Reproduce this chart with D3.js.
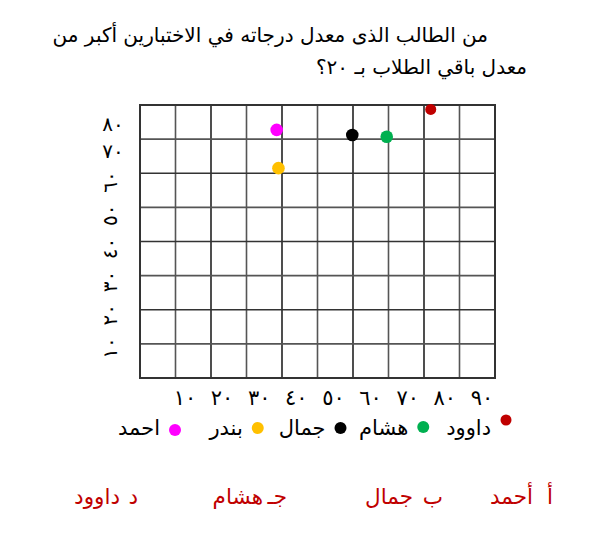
<!DOCTYPE html>
<html><head><meta charset="utf-8">
<script src="https://cdn.jsdelivr.net/npm/d3@7"></script>
<style>body{margin:0;background:#fff} text{font-family:"DejaVu Sans", sans-serif}</style>
</head><body><svg id="c" width="590" height="543"></svg>
<script>
// ---- data ----
const students = ["داوود", "هشام", "جمال", "بندر", "احمد"];
const xValues = [81.9, 69.5, 59.8, 39.0, 38.5];
const yValues = [78.7, 70.7, 71.2, 61.5, 72.7];
const colors = ["#c00000", "#00b050", "#000000", "#ffc000", "#ff00ff"];
const xTickValues = [10, 20, 30, 40, 50, 60, 70, 80, 90];
const xTickLabels = ["١٠", "٢٠", "٣٠", "٤٠", "٥٠", "٦٠", "٧٠", "٨٠", "٩٠"];
const yTickValues = [10, 20, 30, 40, 50, 60, 70, 80];
const yTickLabels = ["١٠", "٢٠", "٣٠", "٤٠", "٥٠", "٦٠", "٧٠", "٨٠"];
const titleLines = ["من الطالب الذى معدل درجاته في الاختبارين أكبر من", "معدل باقي الطلاب بـ ٢٠؟"];
const optionLetters = ["أ", "ب", "جـ", "د"];
const optionNames = ["أحمد", "جمال", "هشام", "داوود"];

const svg = d3.select("#c");
const x = d3.scaleLinear().domain([0, 100]).range([140, 495]);
const y = d3.scaleLinear().domain([0, 80]).range([378, 105]);

// title
svg.selectAll("text.title").data(titleLines).join("text")
  .attr("class", "title")
  .attr("x", (d, i) => [488, 527][i])
  .attr("y", (d, i) => [42, 74][i])
  .attr("text-anchor", "end")
  .attr("font-size", 20)
  .attr("fill", "#000")
  .text(d => d);

// grid
const g = svg.append("g");
g.selectAll("line.v").data(d3.range(0, 101, 10)).join("line")
  .attr("x1", d => x(d)).attr("x2", d => x(d))
  .attr("y1", y(0)).attr("y2", y(80))
  .attr("stroke", (d, i) => i % 2 ? "#555" : "#222").attr("stroke-width", 1.6);
g.selectAll("line.h").data(d3.range(0, 81, 10)).join("line")
  .attr("y1", d => y(d)).attr("y2", d => y(d))
  .attr("x1", x(0)).attr("x2", x(100))
  .attr("stroke", (d, i) => i % 2 ? "#555" : "#333").attr("stroke-width", 1.6);
g.append("rect").attr("x", x(0)).attr("y", y(80))
  .attr("width", x(100) - x(0)).attr("height", y(0) - y(80))
  .attr("fill", "none").attr("stroke", "#333").attr("stroke-width", 2);

// x tick labels (spaced as in the original text line)
const xl = d3.scaleLinear().domain([10, 90]).range([185, 482]);
svg.selectAll("text.xl").data(xTickValues).join("text")
  .attr("class", "xl")
  .attr("x", d => xl(d)).attr("y", 405)
  .attr("text-anchor", "middle").attr("font-size", 21)
  .text((d, i) => xTickLabels[i]);

// y tick labels: 10-60 rotated, 70-80 horizontal
const ylr = d3.scaleLinear().domain([10, 60]).range([348, 182]);
const ylh = d3.scaleLinear().domain([70, 80]).range([151, 124]);
svg.selectAll("text.yl").data(yTickValues).join("text")
  .attr("class", "yl")
  .attr("text-anchor", "middle").attr("dominant-baseline", "central")
  .attr("font-size", 20)
  .attr("transform", d => d <= 60
    ? `translate(110,${ylr(d)}) rotate(-90)`
    : `translate(113,${ylh(d)})`)
  .text((d, i) => yTickLabels[i]);

// points
svg.selectAll("circle.pt").data(students).join("circle")
  .attr("class", "pt")
  .attr("cx", (d, i) => x(xValues[i]))
  .attr("cy", (d, i) => y(yValues[i]))
  .attr("r", (d, i) => i === 0 ? 5.5 : 6.3)
  .attr("fill", (d, i) => colors[i]);

// legend
const lx = d3.scalePoint().domain(students).range([506, 175]);
const legY = [420, 427, 428, 428, 430];
const leg = svg.selectAll("g.leg").data(students).join("g").attr("class", "leg");
leg.append("circle")
  .attr("cx", d => lx(d)).attr("cy", (d, i) => legY[i])
  .attr("r", (d, i) => i === 0 ? 5.5 : 6)
  .attr("fill", (d, i) => colors[i]);
leg.append("text")
  .attr("x", d => lx(d) - 15).attr("y", 435)
  .attr("text-anchor", "end").attr("font-size", 21)
  .text(d => d);

// answer options
const letterRight = [553, 443, 287, 138];
const nameRight = [533, 413, 263, 120];
svg.selectAll("text.ol").data(optionLetters).join("text")
  .attr("class", "ol")
  .attr("x", (d, i) => letterRight[i]).attr("y", 504)
  .attr("text-anchor", "end").attr("font-size", 21.5).attr("fill", "#c00000")
  .text(d => d);
svg.selectAll("text.on").data(optionNames).join("text")
  .attr("class", "on")
  .attr("x", (d, i) => nameRight[i]).attr("y", 504)
  .attr("text-anchor", "end").attr("font-size", 21.5).attr("fill", "#c00000")
  .text(d => d);
</script></body></html>
